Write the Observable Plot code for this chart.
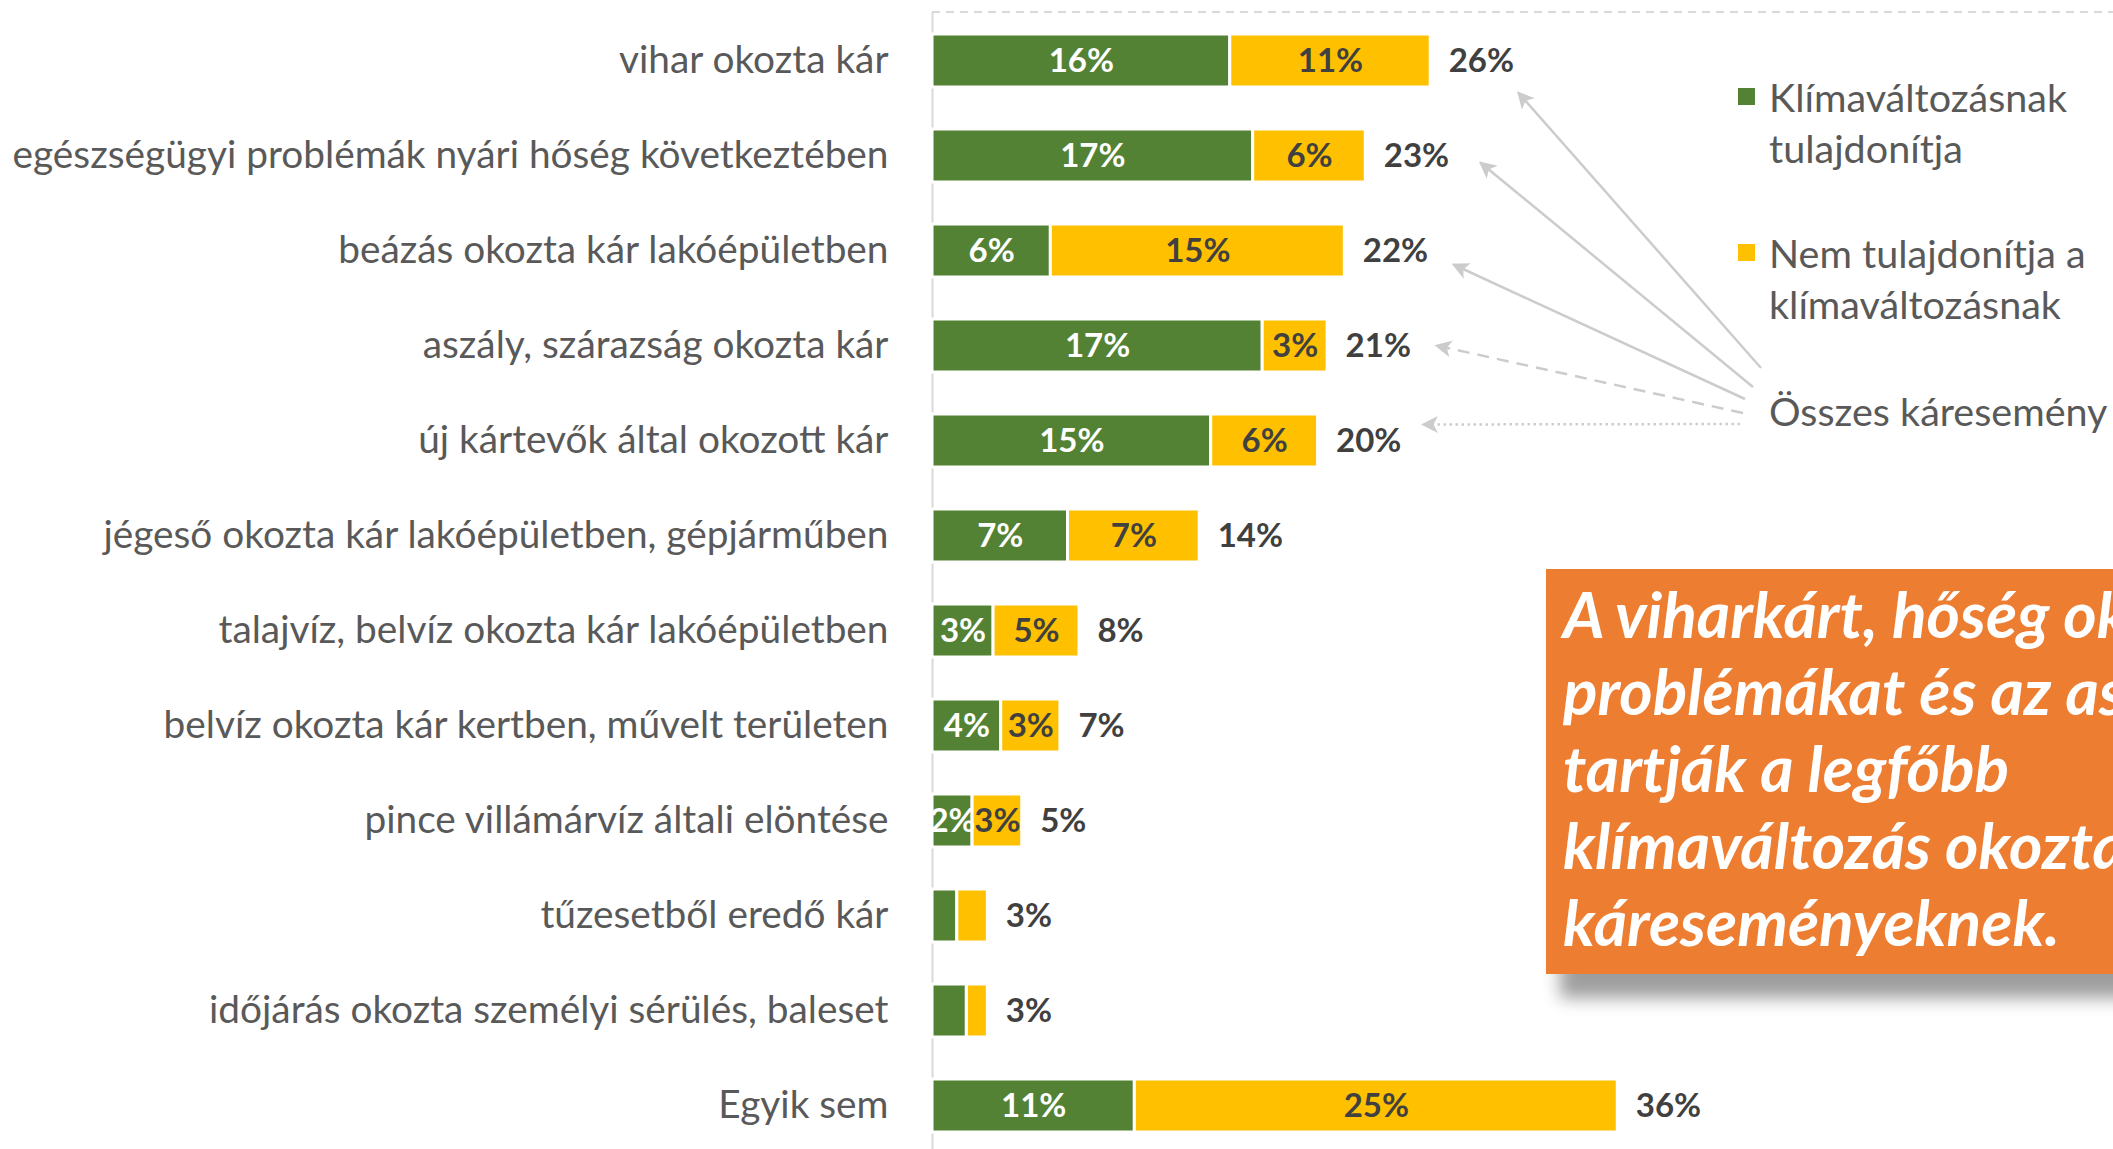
<!DOCTYPE html>
<html><head><meta charset="utf-8">
<script src="https://cdn.jsdelivr.net/npm/d3@7"></script>
<script src="https://cdn.jsdelivr.net/npm/@observablehq/plot@0.6"></script>
<style>
  html,body{margin:0;padding:0;background:#fff;}
  body{width:2113px;height:1149px;overflow:hidden;position:relative;font-family:Lato,"Open Sans",sans-serif;}
  #chart{position:absolute;left:0;top:0;}
  .leg{position:absolute;left:1738px;color:#595959;font-size:39.5px;line-height:51px;white-space:nowrap;}
  .leg .sw{position:absolute;left:0;top:17px;width:17px;height:17px;}
  .leg .tx{position:absolute;left:31px;top:0;}
  #note{position:absolute;left:1546px;top:569px;width:660px;height:405px;background:#ED7D31;
        box-shadow:14px 24px 16px rgba(0,0,0,0.38);}
  #note .tx{position:absolute;left:17px;top:6px;color:#fff;font-weight:bold;font-style:italic;
        font-size:64px;line-height:77px;white-space:nowrap;}
</style></head>
<body>
<div id="chart"></div>
<div class="leg" id="leg1" style="top:71px"><span class="sw"></span><span class="tx"></span></div>
<div class="leg" id="leg2" style="top:227px"><span class="sw"></span><span class="tx"></span></div>
<div class="leg" id="leg3" style="top:385px"><span class="tx"></span></div>
<div id="note"><div class="tx"></div></div>
<script>
// ---- data ----
const categories = [
  "vihar okozta kár",
  "egészségügyi problémák nyári hőség következtében",
  "beázás okozta kár lakóépületben",
  "aszály, szárazság okozta kár",
  "új kártevők által okozott kár",
  "jégeső okozta kár lakóépületben, gépjárműben",
  "talajvíz, belvíz okozta kár lakóépületben",
  "belvíz okozta kár kertben, művelt területen",
  "pince villámárvíz általi elöntése",
  "tűzesetből eredő kár",
  "időjárás okozta személyi sérülés, baleset",
  "Egyik sem"
];
const climate    = [15.6, 16.8, 6.2, 17.3, 14.6, 7.1, 3.2, 3.6, 2.1, 1.3, 1.8, 10.6];
const notClimate = [10.5, 5.9, 15.4, 3.4, 5.6, 6.9, 4.5, 3.1, 2.6, 1.6, 1.1, 25.3];
const seriesNames = ["Klímaváltozásnak tulajdonítja", "Nem tulajdonítja a klímaváltozásnak"];
const seriesLegendLines = [["Klímaváltozásnak", "tulajdonítja"], ["Nem tulajdonítja a", "klímaváltozásnak"]];
const totalName = "Összes káresemény";
const arrowTargets = categories.slice(0, 5);
const noteLines = [
  "A viharkárt, hőség okozta",
  "problémákat és az aszályt",
  "tartják a legfőbb",
  "klímaváltozás okozta",
  "káreseményeknek."
];

// ---- styles / layout ----
const colors = ["#548235", "#FFC000"];
const W = 2113, H = 1149;
const fmt = v => Math.round(v) + "%";

const rows = categories.flatMap((c, i) => [
  {category: c, series: seriesNames[0], value: climate[i]},
  {category: c, series: seriesNames[1], value: notClimate[i]}
]);
const totals = categories.map((c, i) => ({category: c, total: climate[i] + notClimate[i]}));

const chart = Plot.plot({
  width: W, height: H,
  marginLeft: 932, marginRight: 9, marginTop: 12, marginBottom: 0,
  x: {domain: [0, 61.4], axis: null},
  y: {domain: categories, range: [12, 1154], paddingInner: 0.44, paddingOuter: 0.217, axis: null, label: null},
  color: {domain: seriesNames, range: colors},
  style: {fontFamily: "Lato, 'Open Sans', sans-serif", background: "white", overflow: "visible"},
  marks: [
    Plot.ruleX([0], {stroke: "#d9d9d9", strokeWidth: 2}),
    Plot.axisY({tickSize: 0, tickPadding: 44, fontSize: 38.8, fill: "#595959", label: null}),
    Plot.barX(rows, Plot.stackX({x: "value", y: "category", fill: "series", stroke: "white", strokeWidth: 3})),
    Plot.text(rows, Plot.stackX({x: "value", y: "category", z: "series",
      text: d => d.series === seriesNames[0] && d.value >= 2 ? fmt(d.value) : "",
      fill: "white", fontSize: 33, fontWeight: "bold"})),
    Plot.text(rows, Plot.stackX({x: "value", y: "category", z: "series",
      text: d => d.series === seriesNames[1] && d.value >= 2 ? fmt(d.value) : "",
      fill: "#404040", fontSize: 33, fontWeight: "bold"})),
    Plot.text(totals, {x: "total", y: "category", text: d => fmt(d.total), dx: 18,
      textAnchor: "start", fill: "#404040", fontSize: 33, fontWeight: "bold"})
  ]
});
document.getElementById("chart").appendChild(chart);

// ---- annotations drawn from the plot's scales ----
const xs = chart.scale("x"), ys = chart.scale("y");
const bw = ys.bandwidth;
const svg = d3.select(chart);
// dashed top border
svg.append("line").attr("x1", xs.apply(0)).attr("x2", W).attr("y1", 12).attr("y2", 12)
  .attr("stroke", "#d9d9d9").attr("stroke-width", 2).attr("stroke-dasharray", "8,6");

svg.append("defs").append("marker").attr("id", "ah").attr("viewBox", "0 0 10 10")
  .attr("refX", 9).attr("refY", 5).attr("markerWidth", 17).attr("markerHeight", 17)
  .attr("markerUnits", "userSpaceOnUse").attr("orient", "auto")
  .append("path").attr("d", "M0,0 L10,5 L0,10 L2.5,5 Z").attr("fill", "#cccccc");

const arrowStyle = [
  {dx: 88, dy: 32, tail: [1761, 368], dash: null},
  {dx: 115, dy: 7, tail: [1753, 387], dash: null},
  {dx: 109, dy: 14, tail: [1745, 399], dash: null},
  {dx: 109, dy: 0, tail: [1743, 413], dash: "12,8"},
  {dx: 105, dy: -16, tail: [1740, 424], dash: "2.5,3.5"}
];
arrowTargets.forEach((cat, i) => {
  const s = arrowStyle[i];
  const t = totals.find(d => d.category === cat);
  const tx = xs.apply(t.total) + s.dx;
  const ty = ys.apply(cat) + bw / 2 + s.dy;
  svg.append("line").attr("x1", s.tail[0]).attr("y1", s.tail[1]).attr("x2", tx).attr("y2", ty)
    .attr("stroke", "#cccccc").attr("stroke-width", 2.5)
    .attr("stroke-dasharray", s.dash).attr("marker-end", "url(#ah)");
});

// ---- legend ----
[["leg1", 0], ["leg2", 1]].forEach(([id, i]) => {
  const el = document.getElementById(id);
  el.querySelector(".sw").style.background = colors[i];
  el.querySelector(".tx").innerHTML = seriesLegendLines[i].join("<br>");
});
document.querySelector("#leg3 .tx").textContent = totalName;
document.querySelector("#note .tx").innerHTML = noteLines.join("<br>");
</script>
</body></html>
